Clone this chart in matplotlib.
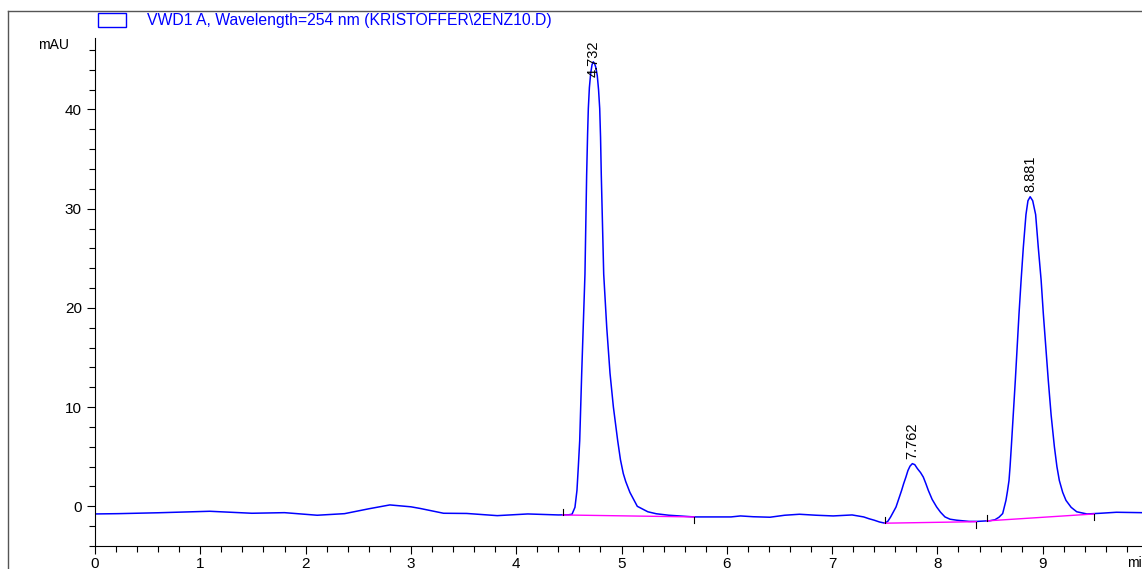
import matplotlib
matplotlib.use("Agg")
import matplotlib.pyplot as plt
from matplotlib.lines import Line2D
from matplotlib.patches import Rectangle
from matplotlib.ticker import MultipleLocator

# -----------------------------
# Data
# -----------------------------
time_min = [
    0.00, 0.22, 0.60, 1.09, 1.49, 1.80, 2.11, 2.37, 2.60, 2.80, 3.00, 3.09,
    3.31, 3.53, 3.82, 4.11, 4.40, 4.50, 4.530, 4.558, 4.577, 4.590, 4.603,
    4.612, 4.622, 4.638, 4.653, 4.669, 4.678, 4.685, 4.695, 4.707, 4.720,
    4.732, 4.745, 4.757, 4.770, 4.782, 4.793, 4.801, 4.808, 4.831, 4.860,
    4.891, 4.923, 4.964, 4.990, 5.017, 5.040, 5.080, 5.150, 5.250, 5.330,
    5.450,
    5.69, 6.04, 6.13, 6.25, 6.41, 6.55, 6.69, 6.85, 7.01, 7.19, 7.30, 7.35,
    7.40, 7.45, 7.502, 7.530, 7.556, 7.580, 7.607, 7.635, 7.660, 7.680,
    7.701, 7.720, 7.740, 7.762, 7.785, 7.810, 7.840, 7.866, 7.890, 7.914,
    7.950, 7.993, 8.030, 8.072, 8.120, 8.183, 8.30, 8.38, 8.50, 8.547,
    8.585, 8.620, 8.651, 8.665, 8.680, 8.690, 8.702, 8.720, 8.740, 8.757,
    8.775, 8.795, 8.816, 8.841, 8.860, 8.881, 8.905, 8.933, 8.958, 8.985,
    9.006, 9.030, 9.053, 9.080, 9.111, 9.135, 9.158, 9.190, 9.221, 9.270,
    9.323, 9.42, 9.55, 9.70, 9.82, 9.94,
]
signal_mau = [
    -0.77, -0.74, -0.65, -0.50, -0.70, -0.64, -0.90, -0.74, -0.25, 0.14, -0.05, -0.22,
    -0.70, -0.72, -0.94, -0.77, -0.87, -0.85, -0.80, -0.10, 1.6, 4.0, 6.6,
    10.0, 13.4, 18.5, 23.4, 33.4, 37.5, 40.1, 42.2, 43.6, 44.5,
    44.8, 44.6, 44.2, 43.4, 42.0, 40.1, 37.2, 33.4, 23.4, 18.0,
    13.4, 10.0, 6.6, 4.7, 3.3, 2.5, 1.4, 0.0, -0.55, -0.75,
    -0.90,
    -1.07, -1.07, -0.97, -1.05, -1.10, -0.90, -0.80, -0.90, -0.97, -0.87, -1.07, -1.25,
    -1.40, -1.58, -1.70, -1.50, -1.07, -0.60, -0.07, 0.8, 1.6, 2.3,
    2.95, 3.6, 4.05, 4.3, 4.2, 3.8, 3.4, 2.95, 2.3, 1.6,
    0.7, -0.07, -0.60, -1.07, -1.30, -1.40, -1.52, -1.52, -1.45, -1.35,
    -1.10, -0.73, 0.6, 1.5, 2.6, 4.0, 6.0, 9.2, 12.7, 16.0,
    19.4, 22.8, 26.1, 29.4, 30.8, 31.2, 30.8, 29.4, 26.1, 22.8,
    19.4, 16.0, 12.7, 9.2, 6.0, 4.0, 2.6, 1.4, 0.6, -0.1,
    -0.55, -0.77, -0.70, -0.60, -0.62, -0.64,
]

# Peaks: retention time and height
peak_rt = [4.732, 7.762, 8.881]
peak_height = [44.8, 4.3, 31.2]
peak_labels = ["4.732", "7.762", "8.881"]

# Integration baselines: start / end points
base_start_t = [4.44, 7.502, 8.47]
base_start_v = [-0.87, -1.70, -1.47]
base_end_t = [5.69, 8.37, 9.49]
base_end_v = [-1.07, -1.55, -0.77]

legend_text = "VWD1 A, Wavelength=254 nm (KRISTOFFER\\2ENZ10.D)"

# -----------------------------
# Figure
# -----------------------------
plt.rcParams["font.family"] = ["Liberation Sans", "DejaVu Sans"]

fig = plt.figure(figsize=(11.42, 5.69), dpi=100)
W, H = 1142, 569
ax = fig.add_axes([95 / W, (H - 546) / H, 1 - 95 / W, (546 - 38) / H])

ax.plot(time_min, signal_mau, color="#0000ff", lw=1.1)

# baselines and their tick marks
for t0, v0, t1, v1 in zip(base_start_t, base_start_v, base_end_t, base_end_v):
    ax.plot([t0, t1], [v0, v1], color="#ff00ff", lw=1.0)
    ax.plot([t0, t0], [v0, v0 + 0.6], color="black", lw=0.8)
    ax.plot([t1, t1], [v1, v1 - 0.6], color="black", lw=0.8)

# peak labels
for rt, h, lab in zip(peak_rt, peak_height, peak_labels):
    ax.text(rt, min(h + 0.5, 43.3), lab, rotation=90, ha="center", va="bottom",
            fontsize=10.5, color="black")

ax.set_xlim(0, (W - 95) / 105.3)
ax.set_ylim(-4.0, 47.2)

for side in ["top", "right"]:
    ax.spines[side].set_visible(False)

ax.xaxis.set_major_locator(MultipleLocator(1))
ax.xaxis.set_minor_locator(MultipleLocator(0.2))
ax.yaxis.set_major_locator(MultipleLocator(10))
ax.yaxis.set_minor_locator(MultipleLocator(2))
ax.tick_params(axis="both", which="major", direction="out", length=6, width=0.8, labelsize=11)
ax.tick_params(axis="both", which="minor", direction="out", length=4, width=0.8)
ax.tick_params(axis="x", which="major", pad=2)

fig.text(38 / W, 1 - 45 / H, "mAU", fontsize=10, ha="left", va="center")
fig.text(1127 / W, 1 - 563 / H, "min", fontsize=10, ha="left", va="center")

# legend box and title
fig.add_artist(Rectangle((98 / W, 1 - 27 / H), 28 / W, 14 / H, transform=fig.transFigure,
                         fill=False, edgecolor="#0000ff", lw=1.0))
fig.text(147 / W, 1 - 20 / H, legend_text, fontsize=11.3, color="#0000ff", ha="left", va="center")

# outer frame
fig.add_artist(Line2D([8 / W, 8 / W], [0, 1 - 11 / H], transform=fig.transFigure, color="#555555", lw=1.0))
fig.add_artist(Line2D([8 / W, 1], [1 - 11 / H, 1 - 11 / H], transform=fig.transFigure, color="#555555", lw=1.0))

fig.savefig("out.png", dpi=100)
